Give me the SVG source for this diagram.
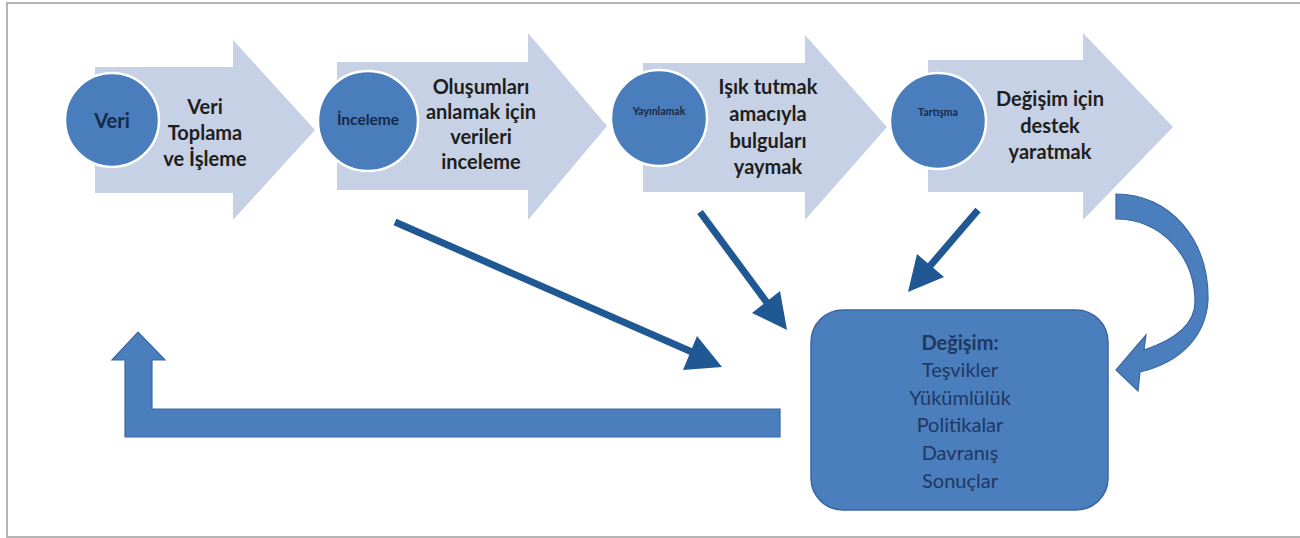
<svg xmlns="http://www.w3.org/2000/svg" width="1300" height="538" viewBox="0 0 1300 538">
<style>
.step{fill:#c6d1e5}
.circ{fill:#4a7dbb;stroke:#ffffff;stroke-width:2.5}
.lbl{font-family:Lato,"Open Sans","Liberation Sans",sans-serif;font-weight:bold;fill:#1e1e1e;text-anchor:middle}
.big{font-size:20px}
.clbl{font-family:Lato,"Liberation Sans",sans-serif;font-weight:bold;fill:#162a4a;text-anchor:middle}
.dark{fill:none;stroke:#1f5893;stroke-width:7;stroke-linecap:butt}
.head{fill:#1f5893}
.mid{fill:#4a7ebc;stroke:#3a68a3;stroke-width:1.2}
.box{font-family:Lato,"Open Sans","Liberation Sans",sans-serif;font-size:20px;fill:#1f3864;text-anchor:middle}
</style>
<rect x="7" y="3" width="1296" height="534" fill="#ffffff" stroke="#b4b4b4" stroke-width="2"/>

<g id="step1">
<polygon class="step" points="95,67 233,67 233,40 315,130 233,220 233,193 95,193"/>
<circle class="circ" cx="112" cy="120" r="47"/>
<text class="clbl" x="112" y="128" font-size="20">Veri</text>
<text class="lbl big" x="205" y="114">Veri</text>
<text class="lbl big" x="205" y="140">Toplama</text>
<text class="lbl big" x="205" y="166">ve İşleme</text>
</g>

<g id="step2">
<polygon class="step" points="337,62 528,62 528,33 607,126 528,220 528,190 337,190"/>
<circle class="circ" cx="368" cy="121" r="50"/>
<text class="clbl" x="368" y="125" font-size="15.5">İnceleme</text>
<text class="lbl big" x="481" y="94">Oluşumları</text>
<text class="lbl big" x="481" y="119">anlamak için</text>
<text class="lbl big" x="481" y="144">verileri</text>
<text class="lbl big" x="481" y="169">inceleme</text>
</g>

<g id="step3">
<polygon class="step" points="643,63 805,63 805,35 887,127 805,220 805,192 643,192"/>
<circle class="circ" cx="659" cy="118" r="48"/>
<text class="clbl" x="659" y="115" font-size="10.5">Yayınlamak</text>
<text class="lbl big" x="768" y="94">Işık tutmak</text>
<text class="lbl big" x="768" y="121">amacıyla</text>
<text class="lbl big" x="768" y="148">bulguları</text>
<text class="lbl big" x="768" y="174">yaymak</text>
</g>

<g id="step4">
<polygon class="step" points="928,60 1083,60 1083,33 1173,127 1083,220 1083,192 928,192"/>
<circle class="circ" cx="938" cy="121" r="48"/>
<text class="clbl" x="938" y="116" font-size="10.5">Tartışma</text>
<text class="lbl big" x="1050" y="106">Değişim için</text>
<text class="lbl big" x="1050" y="133">destek</text>
<text class="lbl big" x="1050" y="159">yaratmak</text>
</g>

<g id="change">
<rect x="811" y="310" width="297" height="200" rx="32" ry="32" fill="#4a7ebc" stroke="#3a66a0" stroke-width="1.5"/>
<text class="box" x="960" y="350" font-weight="bold" fill="#15234a">Değişim:</text>
<text class="box" x="960" y="377">Teşvikler</text>
<text class="box" x="960" y="405">Yükümlülük</text>
<text class="box" x="960" y="432">Politikalar</text>
<text class="box" x="960" y="460">Davranış</text>
<text class="box" x="960" y="488">Sonuçlar</text>
</g>

<g id="connectors">
<line class="dark" x1="395" y1="222" x2="692" y2="352"/>
<polygon class="head" points="722,367 683,370 697,336"/>
<line class="dark" x1="700" y1="212" x2="768" y2="304"/>
<polygon class="head" points="787,330 752,313 780,291"/>
<line class="dark" x1="978" y1="210" x2="930" y2="266"/>
<polygon class="head" points="908,292 917,254 944,277"/>
<path class="mid" d="M1116,194 C1170,194 1209,240 1208,300 C1206,335 1182,362 1140,372 L1138,391 L1116,370 L1146,335 L1144,350 C1174,340 1195,325 1195,302 C1195,255 1160,219 1116,219 Z"/>
<path class="mid" d="M780,409 L152,409 L152,360 L165,360 L138,332 L112,360 L125,360 L125,437 L780,437 Z"/>
</g>
</svg>
